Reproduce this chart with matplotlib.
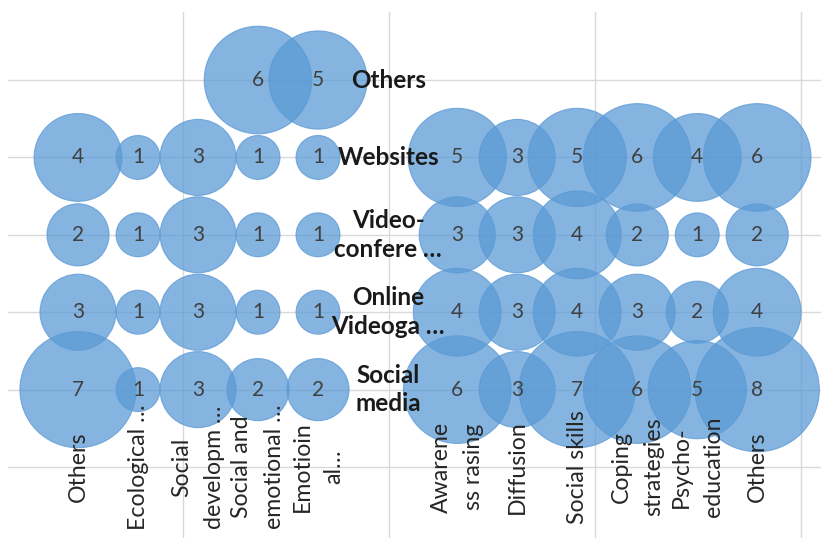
import matplotlib.pyplot as plt
import numpy as np

# categorie (etichette tagliate come nel grafico originale)
rows = ['Social media', 'Online Videogames', 'Videoconference', 'Websites', 'Others']
row_labels = ['Social\nmedia', 'Online\nVideoga …', 'Video-\nconfere …', 'Websites', 'Others']
left_cats = ['Others', 'Ecological …', 'Social\ndevelopm …', 'Social and\nemotional …', 'Emotioin\nal…']
right_cats = ['Awarene\nss rasing', 'Diffusion', 'Social skills', 'Coping\nstrategies',
              'Psycho-\neducation', 'Others']

# valori per riga (0 = nessuna bolla)
social_media_left = [7, 1, 3, 2, 2]
videogames_left = [3, 1, 3, 1, 1]
videoconf_left = [2, 1, 3, 1, 1]
websites_left = [4, 1, 3, 1, 1]
others_left = [0, 0, 0, 6, 5]

social_media_right = [6, 3, 7, 6, 5, 8]
videogames_right = [4, 3, 4, 3, 2, 4]
videoconf_right = [3, 3, 4, 2, 1, 2]
websites_right = [5, 3, 5, 6, 4, 6]
others_right = [0, 0, 0, 0, 0, 0]

left_rows = [social_media_left, videogames_left, videoconf_left, websites_left, others_left]
right_rows = [social_media_right, videogames_right, videoconf_right, websites_right, others_right]

plt.rcParams['font.family'] = ['Lato', 'DejaVu Sans']

fig = plt.figure(figsize=(8.21, 5.38), dpi=100)
ax = fig.add_axes([8 / 821, 0, 813 / 821, 526 / 538])

x_left = np.arange(len(left_cats))
x_right = 6.32 + np.arange(len(right_cats))
x_label = 5.17
xs = np.concatenate([x_left, x_right])

fill = '#5b9bd5'
for y, (lv, rv) in enumerate(zip(left_rows, right_rows), start=1):
    vals = np.array(lv + rv)
    keep = vals > 0
    ax.scatter(xs[keep], np.full(keep.sum(), y), s=1000 * vals[keep], color=fill, alpha=0.75,
               edgecolor=(0.36, 0.60, 0.84, 0.5), linewidth=0.8, zorder=2)
    for x, v in zip(xs[keep], vals[keep]):
        ax.text(x, y, str(v), ha='center', va='center', fontsize=15, color='#404040', zorder=4)
    ax.text(x_label, y, row_labels[y - 1], ha='center', va='center', fontsize=17.5,
            fontweight='bold', color='#1a1a1a', linespacing=1.3, zorder=5)

# etichette delle colonne, ruotate
for x, cat in zip(xs, left_cats + right_cats):
    ax.text(x, 0, cat, rotation=90, ha='center', va='center', multialignment='center',
            fontsize=16.7, color='#262626', linespacing=1.65, zorder=5)

ax.set_xlim(-1.167, 12.383)
ax.set_ylim(-0.917, 5.879)
ax.set_yticks(np.arange(0, 6))
ax.set_xticks(1.75 + 3.433 * np.arange(4))
ax.grid(True, color='#d9d9d9', linewidth=1)
ax.set_axisbelow(True)
ax.tick_params(length=0, labelbottom=False, labelleft=False)
for sp in ax.spines.values():
    sp.set_visible(False)

fig.savefig('out.png', dpi=100)
